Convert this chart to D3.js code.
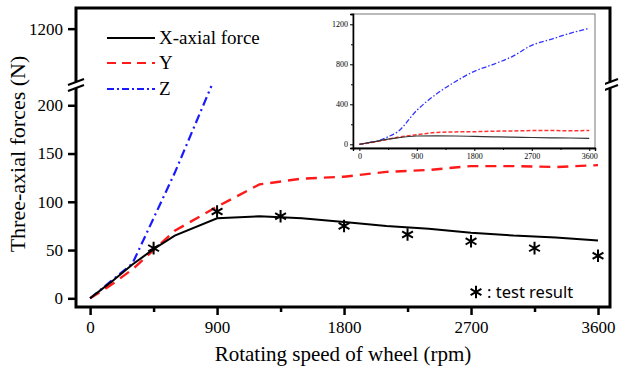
<!DOCTYPE html>
<html>
<head>
<meta charset="utf-8">
<script src="https://cdn.jsdelivr.net/npm/d3@7"></script>
<style>
  body { margin: 0; background: #fff; }
  svg { display: block; }
  .serif { font-family: "Liberation Serif", "Times New Roman", serif; }
</style>
</head>
<body>
<svg id="chart" width="619" height="367"></svg>
<script>
// rotating speed (rpm) and three-axial forces (N)
var speed = [0, 150, 300, 450, 600, 900, 1200, 1500, 1800, 2100, 2400, 2700, 3000, 3300, 3600];
var forceX = [0, 17, 35, 51, 65, 83, 85, 83, 79, 75, 72, 68, 65, 63, 60];
var forceY = [0, 14, 30, 50, 70, 95, 118, 124, 126, 131, 133, 137, 137, 136, 138];
var forceZ = [0, 18, 36, 75, 126, 340, 500, 625, 730, 800, 880, 990, 1050, 1110, 1160];

// Z in the main panel only runs up to the axis break
var speedZMain = [0, 150, 300, 600, 860];
var forceZMain = [0, 18, 36, 130, 220];

// test result (stars)
var testSpeed = [450, 900, 1350, 1800, 2250, 2700, 3150, 3600];
var testForce = [52, 90, 85, 75, 66, 59, 52, 44];

var xTicks = [0, 900, 1800, 2700, 3600];
var yTicksLow = [0, 50, 100, 150, 200];
var yTicksHigh = [1200];
var insetYTicks = [0, 400, 800, 1200];

(function() {
  "use strict";

  var svg = d3.select("#chart");

  var left = 76, right = 610, top = 8, bottom = 307, breakY = 85;

  var x = d3.scaleLinear().domain([-100, 3685]).range([left, right]);
  var yLow = d3.scaleLinear().domain([-9, 221]).range([bottom, breakY]);
  var yHigh = d3.scaleLinear().domain([1140, 1222]).range([breakY, top]);

  var pairs = function(xs, ys) {
    return xs.map(function(d, i) { return [d, ys[i]]; });
  };

  var mainLine = d3.line()
    .x(function(d) { return x(d[0]); })
    .y(function(d) { return yLow(d[1]); });

  // data lines
  svg.append("path")
    .attr("d", mainLine(pairs(speedZMain, forceZMain)))
    .attr("fill", "none")
    .attr("stroke", "#1a1aff")
    .attr("stroke-width", 2.2)
    .attr("stroke-dasharray", "9,4,2,4");

  svg.append("path")
    .attr("d", mainLine(pairs(speed, forceY)))
    .attr("fill", "none")
    .attr("stroke", "#ff1a1a")
    .attr("stroke-width", 2.4)
    .attr("stroke-dasharray", "11,7");

  svg.append("path")
    .attr("d", mainLine(pairs(speed, forceX)))
    .attr("fill", "none")
    .attr("stroke", "#000")
    .attr("stroke-width", 2);

  var star = d3.symbol().type(d3.symbolAsterisk).size(110);

  svg.selectAll(".star")
    .data(pairs(testSpeed, testForce))
    .enter()
    .append("path")
    .attr("class", "star")
    .attr("d", star)
    .attr("transform", function(d) { return "translate(" + x(d[0]) + "," + yLow(d[1]) + ")"; })
    .attr("fill", "none")
    .attr("stroke", "#000")
    .attr("stroke-width", 2);

  // frame
  svg.append("rect")
    .attr("x", left).attr("y", top)
    .attr("width", right - left).attr("height", bottom - top)
    .attr("fill", "none")
    .attr("stroke", "#000")
    .attr("stroke-width", 3);

  // x axis
  svg.append("g")
    .attr("class", "main-axis")
    .attr("transform", "translate(0," + bottom + ")")
    .call(d3.axisBottom(x).tickValues(xTicks).tickSize(8).tickPadding(6).tickFormat(d3.format("d")));

  svg.append("g")
    .attr("class", "main-axis")
    .attr("transform", "translate(0," + bottom + ")")
    .call(d3.axisBottom(x).tickValues([450, 1350, 2250, 3150]).tickSize(5).tickFormat(""));

  // y axes (two segments)
  svg.append("g")
    .attr("class", "main-axis")
    .attr("transform", "translate(" + left + ",0)")
    .call(d3.axisLeft(yLow).tickValues(yTicksLow).tickSize(8).tickPadding(5).tickFormat(d3.format("d")));

  svg.append("g")
    .attr("class", "main-axis")
    .attr("transform", "translate(" + left + ",0)")
    .call(d3.axisLeft(yHigh).tickValues(yTicksHigh).tickSize(8).tickPadding(5).tickFormat(d3.format("d")));

  svg.selectAll(".main-axis .domain").remove();
  svg.selectAll(".main-axis").attr("font-family", null);
  svg.selectAll(".main-axis .tick line").attr("stroke", "#000").attr("stroke-width", 2.5);
  svg.selectAll(".main-axis .tick text")
    .attr("class", "serif")
    .style("font-size", "17px")
    .attr("fill", "#000");

  // axis breaks on the left and right edges
  [left, right].forEach(function(bx) {
    svg.append("rect")
      .attr("x", bx - 3).attr("y", breakY - 3)
      .attr("width", 6).attr("height", 6)
      .attr("fill", "#fff");
    [-3, 3].forEach(function(dy) {
      svg.append("line")
        .attr("x1", bx - 8).attr("y1", breakY + dy + 3)
        .attr("x2", bx + 8).attr("y2", breakY + dy - 3)
        .attr("stroke", "#000")
        .attr("stroke-width", 2);
    });
  });

  // axis titles
  svg.append("text")
    .attr("class", "serif")
    .attr("x", 343).attr("y", 361)
    .attr("text-anchor", "middle")
    .style("font-size", "21px")
    .text("Rotating speed of wheel (rpm)");

  svg.append("text")
    .attr("class", "serif")
    .attr("transform", "translate(25,154) rotate(-90)")
    .attr("text-anchor", "middle")
    .style("font-size", "22px")
    .text("Three-axial forces (N)");

  // legend
  var legend = [
    { label: "X-axial force", color: "#000", dash: null, y: 38 },
    { label: "Y", color: "#ff1a1a", dash: "9,6", y: 63 },
    { label: "Z", color: "#1a1aff", dash: "7,3,2,3", y: 89 }
  ];

  legend.forEach(function(d) {
    svg.append("line")
      .attr("x1", 107).attr("x2", 155)
      .attr("y1", d.y).attr("y2", d.y)
      .attr("stroke", d.color)
      .attr("stroke-width", 2)
      .attr("stroke-dasharray", d.dash);
    svg.append("text")
      .attr("class", "serif")
      .attr("x", 159).attr("y", d.y + 6)
      .style("font-size", "19px")
      .text(d.label);
  });

  svg.append("path")
    .attr("d", d3.symbol().type(d3.symbolAsterisk).size(110)())
    .attr("transform", "translate(476,292)")
    .attr("fill", "none")
    .attr("stroke", "#000")
    .attr("stroke-width", 2);

  svg.append("text")
    .attr("x", 487).attr("y", 298)
    .style("font-family", "'Noto Sans', sans-serif")
    .style("font-size", "16.5px")
    .text(": test result");

  // inset with full Z range
  var il = 353, ir = 595, it = 14, ib = 148;
  var ix = d3.scaleLinear().domain([-100, 3690]).range([il, ir]);
  var iy = d3.scaleLinear().domain([-37, 1303]).range([ib, it]);

  var inset = svg.append("g");

  inset.append("rect")
    .attr("x", il - 14).attr("y", it - 4)
    .attr("width", ir - il + 24).attr("height", ib - it + 20)
    .attr("fill", "#fff");

  inset.append("rect")
    .attr("x", il).attr("y", it)
    .attr("width", ir - il).attr("height", ib - it)
    .attr("fill", "none")
    .attr("stroke", "#777")
    .attr("stroke-width", 1);

  var insetLine = d3.line()
    .x(function(d) { return ix(d[0]); })
    .y(function(d) { return iy(d[1]); })
    .curve(d3.curveMonotoneX);

  inset.append("path")
    .attr("d", insetLine(pairs(speed, forceZ)))
    .attr("fill", "none")
    .attr("stroke", "#3333ff")
    .attr("stroke-width", 1.3)
    .attr("stroke-dasharray", "5,2,1.5,2");

  inset.append("path")
    .attr("d", insetLine(pairs(speed, forceY)))
    .attr("fill", "none")
    .attr("stroke", "#ff3333")
    .attr("stroke-width", 1.5)
    .attr("stroke-dasharray", "4,2");

  inset.append("path")
    .attr("d", insetLine(pairs(speed, forceX)))
    .attr("fill", "none")
    .attr("stroke", "#333")
    .attr("stroke-width", 1.2);

  inset.append("g")
    .attr("transform", "translate(0," + ib + ")")
    .call(d3.axisBottom(ix).tickValues(xTicks).tickSize(3).tickPadding(2).tickFormat(d3.format("d")));
  inset.append("g")
    .attr("transform", "translate(0," + ib + ")")
    .call(d3.axisBottom(ix).tickValues([450, 1350, 2250, 3150]).tickSize(2).tickFormat(""));

  inset.append("g")
    .attr("transform", "translate(" + il + ",0)")
    .call(d3.axisLeft(iy).tickValues(insetYTicks).tickSize(3).tickPadding(2).tickFormat(d3.format("d")));
  inset.append("g")
    .attr("transform", "translate(" + il + ",0)")
    .call(d3.axisLeft(iy).tickValues([200, 600, 1000]).tickSize(2).tickFormat(""));

  inset.selectAll(".domain").attr("stroke", "#000").attr("stroke-width", 1.3);
  inset.selectAll(".tick line").attr("stroke", "#000");
  inset.selectAll(".tick text")
    .attr("class", "serif")
    .style("font-size", "8px")
    .attr("fill", "#000");
})();
</script>
</body>
</html>
